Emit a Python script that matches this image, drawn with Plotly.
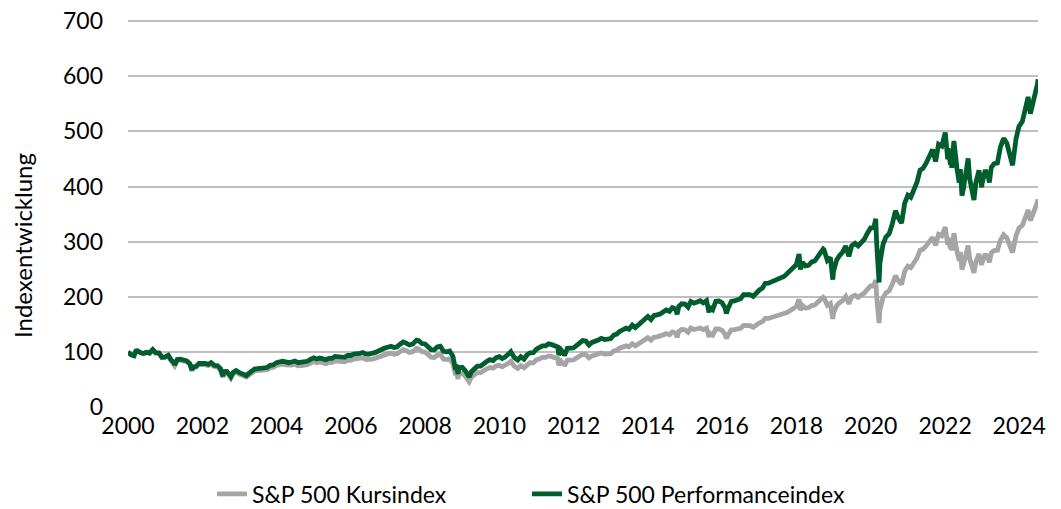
import plotly.graph_objects as go

# ---- data (index, Jan 2000 = 100) ----
dates = [
    "2000-01-01", "2000-01-31", "2000-02-29", "2000-03-24", "2000-03-31", "2000-04-28", "2000-05-31", "2000-06-30",
    "2000-07-31", "2000-09-01", "2000-09-29", "2000-10-31", "2000-11-30", "2000-12-29",
    "2001-01-31", "2001-02-28", "2001-03-30", "2001-04-04", "2001-04-30", "2001-05-31", "2001-06-29", "2001-07-31",
    "2001-08-31", "2001-09-21", "2001-09-28", "2001-10-31", "2001-11-30", "2001-12-31",
    "2002-01-31", "2002-02-28", "2002-03-28", "2002-04-30", "2002-05-31", "2002-06-28", "2002-07-23", "2002-07-31",
    "2002-08-30", "2002-09-30", "2002-10-09", "2002-10-31", "2002-11-29", "2002-12-31",
    "2003-01-31", "2003-02-28", "2003-03-11", "2003-03-31", "2003-04-30", "2003-05-30", "2003-06-30", "2003-07-31",
    "2003-08-29", "2003-09-30", "2003-10-31", "2003-11-28", "2003-12-31",
    "2004-01-30", "2004-02-27", "2004-03-31", "2004-04-30", "2004-05-28", "2004-06-30", "2004-07-30", "2004-08-31",
    "2004-09-30", "2004-10-29", "2004-11-30", "2004-12-31",
    "2005-01-31", "2005-02-28", "2005-03-31", "2005-04-29", "2005-05-31", "2005-06-30", "2005-07-29", "2005-08-31",
    "2005-09-30", "2005-10-31", "2005-11-30", "2005-12-30",
    "2006-01-31", "2006-02-28", "2006-03-31", "2006-04-28", "2006-05-31", "2006-06-30", "2006-07-31", "2006-08-31",
    "2006-09-29", "2006-10-31", "2006-11-30", "2006-12-29",
    "2007-01-31", "2007-02-28", "2007-03-30", "2007-04-30", "2007-05-31", "2007-06-29", "2007-07-31", "2007-08-31",
    "2007-09-28", "2007-10-09", "2007-10-31", "2007-11-30", "2007-12-31",
    "2008-01-31", "2008-02-29", "2008-03-31", "2008-04-30", "2008-05-30", "2008-06-30", "2008-07-31", "2008-08-29",
    "2008-09-30", "2008-10-27", "2008-10-31", "2008-11-20", "2008-11-28", "2008-12-31",
    "2009-01-30", "2009-02-27", "2009-03-09", "2009-03-31", "2009-04-30", "2009-05-29", "2009-06-30", "2009-07-31",
    "2009-08-31", "2009-09-30", "2009-10-30", "2009-11-30", "2009-12-31",
    "2010-01-29", "2010-02-26", "2010-03-31", "2010-04-23", "2010-04-30", "2010-05-28", "2010-06-30", "2010-07-30",
    "2010-08-31", "2010-09-30", "2010-10-29", "2010-11-30", "2010-12-31",
    "2011-01-31", "2011-02-28", "2011-03-31", "2011-04-29", "2011-05-31", "2011-06-30", "2011-07-29", "2011-08-08",
    "2011-08-31", "2011-09-30", "2011-10-03", "2011-10-31", "2011-11-30", "2011-12-30",
    "2012-01-31", "2012-02-29", "2012-03-30", "2012-04-30", "2012-05-31", "2012-06-29", "2012-07-31", "2012-08-31",
    "2012-09-28", "2012-10-31", "2012-11-30", "2012-12-31",
    "2013-01-31", "2013-02-28", "2013-03-28", "2013-04-30", "2013-05-31", "2013-06-28", "2013-07-31", "2013-08-30",
    "2013-09-30", "2013-10-31", "2013-11-29", "2013-12-31",
    "2014-01-31", "2014-02-28", "2014-03-31", "2014-04-30", "2014-05-30", "2014-06-30", "2014-07-31", "2014-08-29",
    "2014-09-30", "2014-10-15", "2014-10-31", "2014-11-28", "2014-12-31",
    "2015-01-30", "2015-02-27", "2015-03-31", "2015-04-30", "2015-05-29", "2015-06-30", "2015-07-31", "2015-08-25",
    "2015-08-31", "2015-09-30", "2015-10-30", "2015-11-30", "2015-12-31",
    "2016-01-29", "2016-02-11", "2016-02-29", "2016-03-31", "2016-04-29", "2016-05-31", "2016-06-30", "2016-07-29",
    "2016-08-31", "2016-09-30", "2016-10-31", "2016-11-30", "2016-12-30",
    "2017-01-31", "2017-02-28", "2017-03-31", "2017-04-28", "2017-05-31", "2017-06-30", "2017-07-31", "2017-08-31",
    "2017-09-29", "2017-10-31", "2017-11-30", "2017-12-29",
    "2018-01-26", "2018-02-08", "2018-02-28", "2018-03-29", "2018-04-30", "2018-05-31", "2018-06-29", "2018-07-31",
    "2018-08-31", "2018-09-20", "2018-09-28", "2018-10-31", "2018-11-30", "2018-12-24", "2018-12-31",
    "2019-01-31", "2019-02-28", "2019-03-29", "2019-04-30", "2019-05-31", "2019-06-28", "2019-07-31", "2019-08-30",
    "2019-09-30", "2019-10-31", "2019-11-29", "2019-12-31",
    "2020-01-31", "2020-02-19", "2020-02-28", "2020-03-23", "2020-03-31", "2020-04-30", "2020-05-29", "2020-06-30",
    "2020-07-31", "2020-08-31", "2020-09-30", "2020-10-30", "2020-11-30", "2020-12-31",
    "2021-01-29", "2021-02-26", "2021-03-31", "2021-04-30", "2021-05-28", "2021-06-30", "2021-07-30", "2021-08-31",
    "2021-09-30", "2021-10-29", "2021-11-30", "2021-12-31",
    "2022-01-03", "2022-01-27", "2022-01-31", "2022-02-23", "2022-02-28", "2022-03-08", "2022-03-29", "2022-04-29",
    "2022-05-20", "2022-05-31", "2022-06-16", "2022-06-30", "2022-07-29", "2022-08-16", "2022-08-31", "2022-09-30",
    "2022-10-12", "2022-10-31", "2022-11-30", "2022-12-28", "2022-12-30",
    "2023-01-31", "2023-02-28", "2023-03-13", "2023-03-31", "2023-04-28", "2023-05-31", "2023-06-30", "2023-07-31",
    "2023-08-31", "2023-09-29", "2023-10-27", "2023-11-30", "2023-12-29",
    "2024-01-31", "2024-02-29", "2024-03-28", "2024-04-19", "2024-04-30", "2024-05-31", "2024-06-28", "2024-07-03",
]

kurs_index = [
    100.0, 94.9, 93.0, 103.9, 102.0, 98.8, 96.7, 99.0, 97.4, 103.5, 97.8, 97.3, 89.5, 89.8,
    93.0, 84.4, 79.0, 75.1, 85.0, 85.5, 83.3, 82.4, 77.2, 65.7, 70.9, 72.1, 77.5, 78.1,
    76.9, 75.3, 78.1, 73.3, 72.6, 67.4, 54.2, 62.1, 62.3, 55.5, 52.9, 60.3, 63.7, 59.9,
    58.3, 57.2, 54.5, 57.7, 62.4, 65.6, 66.4, 67.4, 68.6, 67.8, 71.5, 72.0, 75.7,
    77.0, 77.9, 76.6, 75.3, 76.3, 77.7, 75.0, 75.1, 75.9, 76.9, 79.9, 82.5,
    80.4, 81.9, 80.4, 78.7, 81.1, 81.1, 84.0, 83.0, 83.6, 82.2, 85.0, 84.9,
    87.1, 87.2, 88.1, 89.2, 86.4, 86.4, 86.9, 88.8, 90.9, 93.8, 95.4, 96.5,
    97.9, 95.8, 96.7, 100.9, 104.2, 102.3, 99.0, 100.3, 103.9, 106.5, 105.4, 100.8, 99.9,
    93.9, 90.6, 90.0, 94.3, 95.3, 87.1, 86.2, 87.3, 79.3, 57.7, 66.0, 51.2, 61.0, 61.5,
    56.2, 50.0, 46.1, 54.3, 59.4, 62.5, 62.5, 67.2, 69.5, 71.9, 70.5, 74.6, 75.9,
    73.1, 75.1, 79.6, 82.8, 80.8, 74.1, 70.2, 75.0, 71.4, 77.7, 80.5, 80.4, 85.6,
    87.5, 90.3, 90.2, 92.8, 91.5, 89.9, 87.9, 76.2, 83.0, 77.0, 74.8, 85.3, 84.9, 85.6,
    89.3, 93.0, 95.8, 95.2, 89.2, 92.7, 93.9, 95.8, 98.1, 96.1, 96.4, 97.1,
    102.0, 103.1, 106.8, 108.8, 111.0, 109.3, 114.8, 111.1, 114.5, 119.6, 122.9, 125.8,
    121.4, 126.5, 127.4, 128.2, 131.0, 133.4, 131.4, 136.3, 134.2, 126.7, 137.3, 140.8, 140.1,
    135.8, 143.3, 140.8, 142.0, 143.4, 140.4, 143.2, 127.1, 134.2, 130.7, 141.5, 141.6, 139.1,
    132.0, 124.5, 131.5, 140.2, 140.5, 142.7, 142.9, 148.0, 147.8, 147.6, 144.7, 149.7, 152.4,
    155.1, 160.9, 160.8, 162.3, 164.2, 164.9, 168.1, 168.2, 171.4, 175.3, 180.2, 182.0,
    195.5, 175.7, 184.7, 179.8, 180.2, 184.1, 185.0, 191.7, 197.5, 199.4, 198.3, 184.6, 187.9, 160.0, 170.6,
    184.0, 189.5, 192.9, 200.5, 187.3, 200.2, 202.8, 199.2, 202.6, 206.8, 213.8, 219.9,
    219.6, 230.5, 201.1, 152.3, 175.9, 198.2, 207.2, 211.0, 222.6, 238.2, 228.9, 222.6, 246.5, 255.6,
    252.8, 259.4, 270.4, 284.6, 286.1, 292.5, 299.1, 307.8, 293.2, 313.4, 310.8, 324.4,
    326.5, 294.4, 307.4, 287.6, 297.7, 283.9, 315.3, 281.2, 265.5, 281.2, 249.6, 257.6, 281.1, 293.0, 269.2, 244.1,
    243.5, 263.5, 277.7, 257.5, 261.4,
    277.5, 270.2, 262.4, 279.7, 283.8, 284.5, 302.9, 312.3, 306.8, 291.8, 280.2, 310.9, 324.7,
    329.8, 346.8, 357.6, 338.1, 342.8, 359.2, 371.6, 376.9,
]

performance_index = [
    100.0, 95.0, 93.2, 104.2, 102.3, 99.2, 97.2, 99.6, 98.1, 104.3, 98.7, 98.3, 90.5, 90.9,
    94.2, 85.6, 80.3, 76.3, 86.4, 87.0, 84.9, 84.0, 78.8, 67.1, 72.5, 73.8, 79.4, 80.1,
    79.1, 77.5, 80.5, 75.6, 75.1, 69.8, 56.2, 64.4, 64.7, 57.7, 55.1, 62.8, 66.4, 62.6,
    61.0, 59.9, 57.2, 60.6, 65.6, 69.1, 70.0, 71.2, 72.6, 71.8, 75.9, 76.5, 80.5,
    82.1, 83.1, 81.9, 80.6, 81.8, 83.5, 80.6, 80.9, 81.8, 83.1, 86.4, 89.3,
    87.2, 88.9, 87.5, 85.8, 88.5, 88.6, 92.0, 91.0, 91.8, 90.4, 93.6, 93.6,
    96.2, 96.4, 97.6, 99.0, 96.1, 96.2, 96.9, 99.2, 101.7, 105.1, 107.0, 108.5,
    110.2, 108.1, 109.2, 114.1, 118.1, 116.1, 112.6, 114.2, 118.4, 121.5, 120.4, 115.3, 114.5,
    107.8, 104.3, 103.8, 109.0, 110.4, 101.1, 100.3, 101.7, 92.6, 67.5, 77.2, 60.0, 71.6, 72.3,
    66.2, 59.0, 54.4, 64.2, 70.4, 74.3, 74.4, 80.2, 83.1, 86.1, 84.6, 89.7, 91.5,
    88.2, 90.8, 96.4, 100.4, 98.0, 90.0, 85.4, 91.4, 87.1, 94.9, 98.5, 98.6, 105.1,
    107.6, 111.2, 111.3, 114.7, 113.3, 111.5, 109.2, 94.7, 103.3, 95.9, 93.2, 106.5, 106.1, 107.2,
    112.0, 116.9, 120.6, 120.0, 112.7, 117.4, 119.1, 121.7, 124.8, 122.5, 123.1, 124.2,
    130.7, 132.4, 137.3, 140.1, 143.2, 141.3, 148.7, 144.1, 148.7, 155.7, 160.3, 164.3,
    158.8, 165.8, 167.3, 168.6, 172.5, 176.1, 173.7, 180.5, 178.0, 168.3, 182.5, 187.4, 186.8,
    181.3, 191.7, 188.7, 190.6, 192.9, 189.1, 193.2, 171.7, 181.4, 177.0, 191.9, 192.4, 189.3,
    179.9, 169.8, 179.6, 191.8, 192.6, 195.9, 196.6, 203.9, 204.1, 204.1, 200.6, 207.8, 212.0,
    216.1, 224.5, 224.8, 227.2, 230.2, 231.5, 236.5, 237.0, 241.8, 247.7, 255.2, 258.1,
    277.6, 249.7, 262.8, 256.2, 257.1, 263.3, 264.9, 274.9, 283.8, 286.7, 285.4, 266.0, 271.3, 231.2, 246.7,
    266.6, 275.0, 280.5, 292.1, 273.3, 292.7, 297.1, 292.2, 297.8, 304.6, 315.4, 325.0,
    325.0, 341.4, 298.0, 226.0, 261.0, 294.5, 308.3, 314.6, 332.3, 356.1, 342.7, 333.7, 370.0, 384.2,
    380.5, 390.9, 407.8, 429.7, 432.6, 442.8, 453.4, 467.2, 445.4, 476.7, 473.3, 494.7,
    497.9, 449.5, 469.4, 439.5, 455.2, 434.1, 482.7, 431.1, 407.3, 431.7, 383.4, 395.7, 432.3, 450.9, 414.6, 376.4,
    375.7, 406.8, 429.3, 398.6, 404.6,
    430.1, 419.1, 407.2, 434.4, 441.3, 442.7, 471.9, 487.2, 478.9, 456.1, 438.5, 486.9, 509.1,
    517.8, 544.8, 562.5, 532.2, 539.9, 566.1, 586.4, 594.7,
]

series_names = ["S&P 500 Kursindex", "S&P 500 Performanceindex"]
series_colors = ["#A5A5A5", "#005E2E"]
year_ticks = ["2000-01-01", "2002-01-01", "2004-01-01", "2006-01-01", "2008-01-01", "2010-01-01", "2012-01-01",
              "2014-01-01", "2016-01-01", "2018-01-01", "2020-01-01", "2022-01-01", "2024-01-01"]
year_labels = ["2000", "2002", "2004", "2006", "2008", "2010", "2012", "2014", "2016", "2018", "2020", "2022", "2024"]
y_ticks = [0, 100, 200, 300, 400, 500, 600, 700]
y_title = "Indexentwicklung"

FONT = "Lato, 'Open Sans', sans-serif"
FS = 23
FIG_W, FIG_H = 1061, 509

fig = go.Figure()
legend_refs = ["legend", "legend2"]
for name, color, vals, lg in zip(series_names, series_colors, [kurs_index, performance_index], legend_refs):
    fig.add_trace(go.Scatter(
        x=dates, y=vals, mode="lines", name=name, legend=lg,
        line=dict(color=color, width=4.8),
    ))

legend_common = dict(
    orientation="h", xref="container", yref="container",
    xanchor="left", y=1 - 494 / FIG_H, yanchor="middle",
    font=dict(family=FONT, size=FS, color="#000000"),
    bgcolor="rgba(0,0,0,0)",
)

fig.update_layout(
    width=FIG_W, height=FIG_H, autosize=False,
    margin=dict(l=128, r=23, t=20, b=101, autoexpand=False),
    paper_bgcolor="white", plot_bgcolor="white",
    font=dict(family=FONT, size=FS, color="#000000"),
    showlegend=True,
    legend=dict(legend_common, x=212 / FIG_W),
    legend2=dict(legend_common, x=527 / FIG_W),
    annotations=[dict(
        text=y_title, textangle=-90, xref="paper", yref="paper",
        x=-0.1165, y=0.42, xanchor="center", yanchor="middle", showarrow=False,
        font=dict(family=FONT, size=24, color="#000000"),
    )],
)

fig.update_xaxes(
    type="date", range=["2000-01-01", dates[-1]],
    tickvals=year_ticks, ticktext=year_labels,
    showgrid=False, zeroline=False, showline=False, ticks="",
    ticklabelstandoff=2, automargin=False, ticklabeloverflow="allow",
    tickfont=dict(family=FONT, size=FS, color="#000000"),
)
fig.update_yaxes(
    range=[-1.6, 702], tickvals=y_ticks,
    showgrid=True, gridcolor="#BFBFBF", gridwidth=1.6,
    zeroline=False, showline=False, ticks="",
    ticklabelstandoff=24, automargin=False, ticklabeloverflow="allow",
    tickfont=dict(family=FONT, size=FS, color="#000000"),
)

fig.write_html(
    "out.html",
    config={"displayModeBar": False},
    post_script="document.body.style.margin='0';",
)
